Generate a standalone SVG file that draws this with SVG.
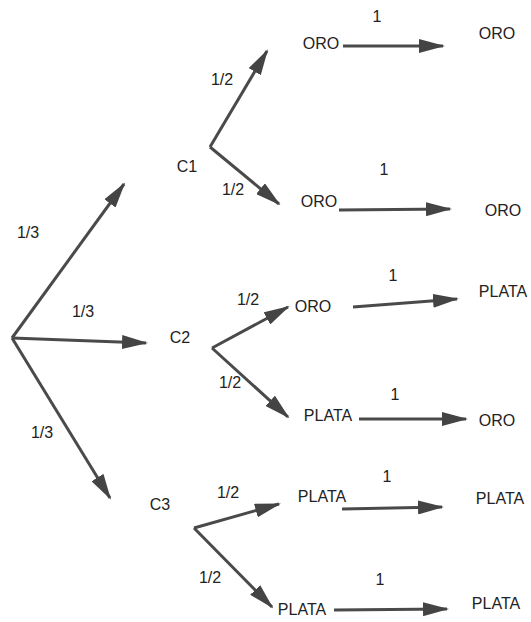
<svg xmlns="http://www.w3.org/2000/svg" width="531" height="622" viewBox="0 0 531 622">
  <defs>
    <marker id="head" markerUnits="userSpaceOnUse" markerWidth="26" markerHeight="14" refX="24" refY="7" orient="auto">
      <path d="M0,0 L26,7 L0,14 z" fill="#444"/>
    </marker>
    <style>
      .edge { stroke: #4a4a4a; stroke-width: 3; fill: none; marker-end: url(#head); }
      text { font-family: "Liberation Sans", Arial, sans-serif; font-size: 16px; fill: #222; text-anchor: middle; }
    </style>
  </defs>
  <rect width="531" height="622" fill="#fff"/>

  <!-- connectors -->
  <g id="edges">
    <line class="edge" x1="12" y1="338" x2="124" y2="184"/>
    <line class="edge" x1="12" y1="338" x2="146" y2="343"/>
    <line class="edge" x1="12" y1="338" x2="110" y2="498"/>

    <line class="edge" x1="210" y1="147" x2="267" y2="51"/>
    <line class="edge" x1="210" y1="147" x2="279" y2="204"/>
    <line class="edge" x1="343" y1="46" x2="443" y2="46"/>
    <line class="edge" x1="339" y1="210" x2="450" y2="209"/>

    <line class="edge" x1="212" y1="348" x2="288" y2="307"/>
    <line class="edge" x1="212" y1="348" x2="288" y2="417"/>
    <line class="edge" x1="353" y1="307" x2="457" y2="299"/>
    <line class="edge" x1="359" y1="419" x2="466" y2="419"/>

    <line class="edge" x1="194" y1="528" x2="279" y2="504"/>
    <line class="edge" x1="194" y1="528" x2="272" y2="607"/>
    <line class="edge" x1="342" y1="509" x2="442" y2="507"/>
    <line class="edge" x1="334" y1="610" x2="447" y2="609"/>
  </g>

  <!-- edge probabilities -->
  <g id="probabilities">
    <text x="28" y="238">1/3</text>
    <text x="83" y="317">1/3</text>
    <text x="42" y="438">1/3</text>
    <text x="222" y="85">1/2</text>
    <text x="233" y="195">1/2</text>
    <text x="248" y="305">1/2</text>
    <text x="230" y="388">1/2</text>
    <text x="228" y="498">1/2</text>
    <text x="210" y="583">1/2</text>
    <text x="377" y="22">1</text>
    <text x="384" y="175">1</text>
    <text x="393" y="281">1</text>
    <text x="395" y="400">1</text>
    <text x="387" y="482">1</text>
    <text x="380" y="585">1</text>
  </g>

  <g id="c1"><text x="187" y="172">C1</text></g>
  <g id="c2"><text x="180" y="343">C2</text></g>
  <g id="c3"><text x="160" y="510">C3</text></g>

  <g id="c1-a"><text x="321" y="49">ORO</text></g>
  <g id="c1-a-b"><text x="497" y="39">ORO</text></g>
  <g id="c1-b"><text x="319" y="207">ORO</text></g>
  <g id="c1-b-a"><text x="503" y="216">ORO</text></g>

  <g id="c2-a"><text x="313" y="312">ORO</text></g>
  <g id="c2-a-b"><text x="503" y="297">PLATA</text></g>
  <g id="c2-b"><text x="328" y="421">PLATA</text></g>
  <g id="c2-b-a"><text x="497" y="426">ORO</text></g>

  <g id="c3-a"><text x="322" y="502">PLATA</text></g>
  <g id="c3-a-b"><text x="500" y="504">PLATA</text></g>
  <g id="c3-b"><text x="302" y="615">PLATA</text></g>
  <g id="c3-b-a"><text x="496" y="609">PLATA</text></g>
</svg>
